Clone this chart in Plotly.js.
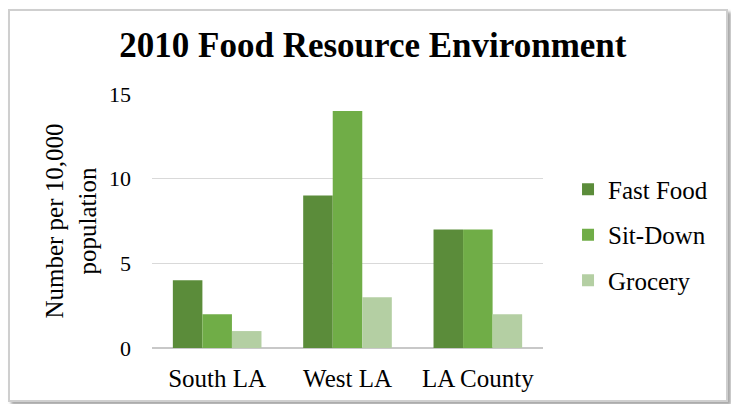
<!DOCTYPE html>
<html><head><meta charset="utf-8">
<script src="https://cdn.plot.ly/plotly-3.0.1.min.js"></script>
<style>
html,body{margin:0;padding:0;background:#fff;width:731px;height:404px;overflow:hidden;}
#frame{position:absolute;left:8px;top:9px;width:716px;height:389px;border:2px solid #cfcfcf;box-shadow:3px 3px 3px #a8a8a8;background:#fff;}
#chart{position:absolute;left:0;top:0;width:731px;height:404px;}
</style></head>
<body>
<div id="frame"></div>
<div id="chart"></div>
<script>
const categories = ["South LA", "West LA", "LA County"];
const fastFood = [4, 9, 7];
const sitDown = [2, 14, 7];
const grocery = [1, 3, 2];
const seriesNames = ["Fast Food", "Sit-Down", "Grocery"];
const yTicks = [0, 5, 10, 15];

const colors = ["#5b8c3a", "#70ad47", "#b4cfa3"];
const serif = "Liberation Serif, Times New Roman, serif";
const data = [fastFood, sitDown, grocery].map((vals, i) => ({
  type: "bar", x: categories, y: vals, name: seriesNames[i],
  marker: {color: colors[i], line: {width: 0}},
  legendgroup: "g" + i, hoverinfo: "none"
}));

const layout = {
  width: 731, height: 404,
  paper_bgcolor: "rgba(0,0,0,0)", plot_bgcolor: "rgba(0,0,0,0)",
  margin: {l: 152, r: 188, t: 94, b: 56},
  barmode: "group", bargap: 0.32, bargroupgap: 0,
  font: {family: serif, color: "#000", size: 25},
  title: {text: "<b>2010 Food Resource Environment</b>", font: {family: serif, size: 35, color: "#000"},
          x: 0.565, xanchor: "center", y: 0.888, yanchor: "middle", xref: "paper", yref: "container"},
  xaxis: {showgrid: false, zeroline: false, showline: false, ticks: "", tickfont: {size: 25},
          ticklabelstandoff: 13, fixedrange: true},
  yaxis: {range: [0, 15], tickvals: yTicks, showgrid: true, gridcolor: "#d9d9d9", gridwidth: 1.5,
          zeroline: true, zerolinecolor: "#c8c8c8", zerolinewidth: 2, showline: false, ticks: "",
          tickfont: {size: 22}, ticklabelstandoff: 20,
          title: {text: "Number per 10,000<br>population", font: {size: 25}, standoff: 5}},
  legend: {x: 1.064, xanchor: "left", xref: "paper", y: 0.445, yanchor: "middle",
           font: {size: 25}, tracegroupgap: 10, itemwidth: 30, bgcolor: "rgba(0,0,0,0)"},
  showlegend: true
};
Plotly.newPlot("chart", data, layout, {staticPlot: true, displayModeBar: false});
</script>
</body></html>
